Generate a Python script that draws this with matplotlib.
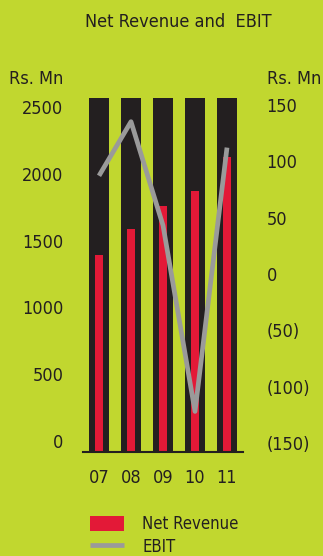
import numpy as np
import matplotlib.pyplot as plt
from matplotlib.ticker import FuncFormatter

years = ["07", "08", "09", "10", "11"]
net_revenue = [1390, 1575, 1735, 1845, 2085]   # Rs. Mn
revenue_max = [2500, 2500, 2500, 2500, 2500]   # black background bars
ebit = [87, 135, 43, -122, 112]                # Rs. Mn

left_ticks = [0, 500, 1000, 1500, 2000, 2500]
right_ticks = [-150, -100, -50, 0, 50, 100, 150]

bg = "#c1d72f"
black = "#231f20"
red = "#e31937"
grey = "#9a9a9a"
txt = "#231f20"

plt.rcParams['font.family'] = ['DejaVu Sans']
plt.rcParams['font.stretch'] = 'condensed'

fig = plt.figure(figsize=(3.23, 5.56), dpi=100, facecolor=bg)
ax = fig.add_axes([83/323, 104/556, 160/323, 354/556])
ax.set_facecolor(bg)

x = np.arange(len(years))
ax.bar(x, revenue_max, width=0.625, color=black, zorder=1)
red_bars = ax.bar(x, net_revenue, width=0.25, color=red, zorder=2, label="Net Revenue")
ax.set_xlim(-0.5, 4.5)
ax.set_ylim(0, 2500)
ax.set_yticks([])
ax.set_xticks(x)
ax.set_xticklabels(years, fontsize=13, color=txt)
ax.tick_params(axis='x', length=0, pad=12)
for s in ["top", "left", "right"]:
    ax.spines[s].set_visible(False)
ax.spines["bottom"].set_color(black)
ax.spines["bottom"].set_linewidth(1.5)

# left label scale
axl = ax.twinx()
axl.set_ylim(-82, 2567)
axl.yaxis.tick_left()
axl.set_yticks(left_ticks)
axl.tick_params(axis='y', length=0, pad=14, labelsize=13, colors=txt)
for s in axl.spines.values():
    s.set_visible(False)

# right EBIT scale
axr = ax.twinx()
axr.set_ylim(-158, 156)
ebit_line, = axr.plot(x, ebit, color=grey, lw=3.4, zorder=3, label="EBIT",
                      solid_capstyle='butt')
axr.set_yticks(right_ticks)
axr.yaxis.set_major_formatter(FuncFormatter(lambda v, p: f"({abs(int(v))})" if v < 0 else f"{int(v)}"))
axr.tick_params(axis='y', length=0, pad=17, labelsize=13, colors=txt)
for s in axr.spines.values():
    s.set_visible(False)

fig.text(178/323, 1 - 22/556, "Net Revenue and  EBIT", ha='center', va='center', fontsize=13, color=txt)
fig.text(63/323, 1 - 79/556, "Rs. Mn", ha='right', va='center', fontsize=13, color=txt)
fig.text(267/323, 1 - 79/556, "Rs. Mn", ha='left', va='center', fontsize=13, color=txt)

fig.legend(handles=[red_bars, ebit_line], labels=["Net Revenue", "EBIT"],
           loc='upper left', bbox_to_anchor=(75/323, 1 - 500/556), frameon=False,
           fontsize=12, handlelength=2.05, handleheight=1.0, handletextpad=1.1,
           labelspacing=0.3, labelcolor=txt)

fig.savefig("out.png", dpi=100, facecolor=bg)
